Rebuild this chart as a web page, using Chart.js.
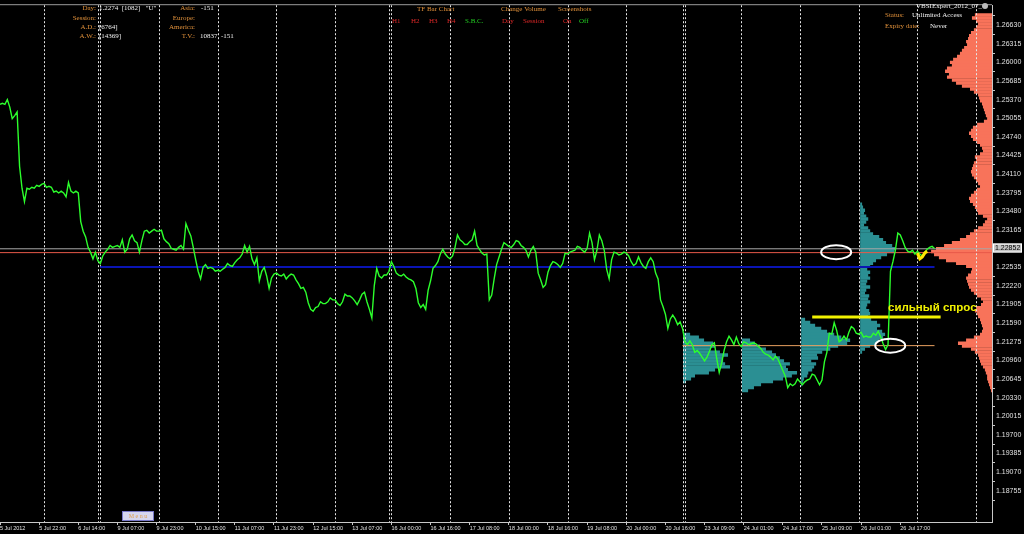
<!DOCTYPE html>
<html><head><meta charset="utf-8">
<script src="https://cdn.jsdelivr.net/npm/chart.js@4.4.1/dist/chart.umd.min.js"></script>
<style>html,body{margin:0;padding:0;background:#000;overflow:hidden}#wrap{width:1024px;height:534px;position:relative}</style>
</head><body><div id="wrap"><canvas id="c" width="1024" height="534"></canvas></div>
<script>
// ---------- DATA ----------
// EURUSD H1 closes, one per bar starting 5 Jul 2012 06:00
const prices = [
1.25291,1.25307,1.25291,1.25372,1.25243,1.25049,1.25098,1.25162,1.24243,1.23871,1.23645,1.23871,1.23855,1.23887,1.23871,1.23920,1.23903,
1.23936,1.23952,1.23887,1.23903,1.23887,1.23807,1.23823,1.23791,1.23823,1.23791,1.23726,1.23968,1.23823,1.23791,1.23823,1.23791,
1.23307,1.23145,1.23048,1.22871,1.22790,1.22677,1.22790,1.22645,1.22597,1.22726,1.22790,1.22839,1.22903,1.22871,1.22887,1.22903,
1.22871,1.23000,1.22790,1.22839,1.23016,1.23081,1.22984,1.22952,1.22790,1.22984,1.23145,1.23161,1.23113,1.23145,1.23177,1.23145,
1.23145,1.23161,1.23016,1.22968,1.22935,1.22855,1.22839,1.22822,1.22871,1.22903,1.22839,1.23274,1.23161,1.23064,1.22871,1.22661,
1.22467,1.22338,1.22532,1.22580,1.22516,1.22532,1.22516,1.22467,1.22484,1.22467,1.22500,1.22532,1.22597,1.22564,1.22548,1.22613,
1.22661,1.22693,1.22758,1.22903,1.22790,1.22887,1.22677,1.22580,1.22693,1.22306,1.22467,1.22532,1.22387,1.22177,1.22354,1.22419,
1.22435,1.22403,1.22387,1.22419,1.22338,1.22387,1.22419,1.22403,1.22322,1.22258,1.22177,1.22193,1.22113,1.21935,1.21822,1.21790,
1.21854,1.21870,1.21951,1.21919,1.21919,1.21951,1.22016,1.21983,1.21983,1.21919,1.21887,1.21951,1.22080,1.22048,1.22048,1.22016,
1.21967,1.21903,1.21983,1.22080,1.22113,1.21951,1.21822,1.21677,1.22225,1.22516,1.22387,1.22354,1.22403,1.22403,1.22467,1.22629,
1.22548,1.22435,1.22403,1.22387,1.22419,1.22371,1.22338,1.22322,1.22290,1.22177,1.21935,1.21854,1.21903,1.21822,1.22145,1.22306,
1.22516,1.22564,1.22629,1.22758,1.22839,1.22758,1.22709,1.22677,1.22726,1.22871,1.23081,1.23000,1.22968,1.22919,1.22919,1.22968,
1.23000,1.23145,1.22903,1.22839,1.22774,1.22742,1.22758,1.21983,1.22064,1.22338,1.22580,1.22709,1.22839,1.22952,1.22919,1.22887,
1.22871,1.22919,1.22984,1.22968,1.22903,1.22871,1.22822,1.22709,1.22822,1.22887,1.22790,1.22435,1.22322,1.22193,1.22241,1.22451,
1.22564,1.22629,1.22613,1.22580,1.22532,1.22597,1.22774,1.22758,1.22790,1.22806,1.22822,1.22887,1.22871,1.22822,1.22790,1.22855,
1.23113,1.22952,1.22661,1.22822,1.23081,1.22984,1.22822,1.22500,1.22338,1.22661,1.22790,1.22774,1.22742,1.22758,1.22790,1.22774,
1.22726,1.22629,1.22564,1.22597,1.22709,1.22613,1.22548,1.22516,1.22629,1.22693,1.22629,1.22435,1.22338,1.21983,1.21870,1.21741,
1.21499,1.21661,1.21725,1.21661,1.21564,1.21612,1.21499,1.21274,1.21225,1.21290,1.21225,1.21096,1.21128,1.21080,1.21015,1.20951,
1.21015,1.21112,1.21225,1.21258,1.20983,1.20757,1.20919,1.21128,1.21274,1.21370,1.21306,1.21225,1.21354,1.21241,1.21193,1.21274,
1.21258,1.21225,1.21241,1.21258,1.21241,1.21193,1.21161,1.21096,1.21064,1.21048,1.21015,1.20967,1.21032,1.20983,1.20886,1.20789,
1.20693,1.20499,1.20564,1.20531,1.20564,1.20644,1.20596,1.20548,1.20596,1.20628,1.20644,1.20725,1.20709,1.20628,1.20548,1.20628,
1.20935,1.21096,1.21419,1.21403,1.21596,1.21467,1.21274,1.21306,1.21370,1.21306,1.21435,1.21532,1.21499,1.21419,1.21403,1.21435,
1.21354,1.21370,1.21354,1.21354,1.21419,1.21386,1.21451,1.21354,1.21241,1.21144,1.21225,1.22467,1.22629,1.22822,1.23113,1.23081,
1.22984,1.22871,1.22806,1.22790,1.22822,1.22758,1.22806,1.22758,1.22726,1.22790,1.22839,1.22871,1.22887,1.22852
];
const lastPrice = 1.22852;
const lastBarsBars   = [375, 376, 377, 378, 379];
const lastBarsPrices = [1.22774, 1.22677, 1.22709, 1.22774, 1.22806];

const xTickBars = [0,16,32,48,64,80,96,112,128,144,160,176,192,208,224,240,256,272,288,304,320,336,352,368];
const xTickLabels = ['5 Jul 2012','5 Jul 22:00','6 Jul 14:00','9 Jul 07:00','9 Jul 23:00','10 Jul 15:00','11 Jul 07:00','11 Jul 23:00',
  '12 Jul 15:00','13 Jul 07:00','16 Jul 00:00','16 Jul 16:00','17 Jul 08:00','18 Jul 00:00','18 Jul 16:00','19 Jul 08:00',
  '20 Jul 00:00','20 Jul 16:00','23 Jul 09:00','24 Jul 01:00','24 Jul 17:00','25 Jul 09:00','26 Jul 01:00','26 Jul 17:00'];
const yTickValues = [1.26630,1.26315,1.26000,1.25685,1.25370,1.25055,1.24740,1.24425,1.24110,1.23795,1.23480,1.23165,
  1.22535,1.22220,1.21905,1.21590,1.21275,1.20960,1.20645,1.20330,1.20015,1.19700,1.19385,1.19070,1.18755];
const daySeparatorBars = [18,40,41,65,89,113,137,159,160,184,208,232,256,279,280,303,327,351,375,399];

// horizontal levels
const levelPrices  = [1.22847, 1.22782, 1.22540, 1.21209, 1.21693];
const levelFromBar = [0, 0, 41, 279, 332];
const levelToBar   = [405.5, 405.5, 382, 382, 384.5];

// session volume profiles (rows every 0.0005, length in bars)
const profileStartBar = [279.2, 303.3, 327.5, 351.6];
const profileTopPrice = [1.2140, 1.2130, 1.2165, 1.2360];
const profile1Vol = [2.9,6.5,8.6,12.3,13.1,11.0,15.1,18.4,16.0,16.4,17.2,19.2,13.1,10.6,4.9,3.3,1.2];
const profile2Vol = [3.3,5.3,7.4,9.8,12.3,13.9,15.5,17.2,19.6,18.0,18.8,22.5,20.4,16.8,12.7,7.8,4.9,2.5];
const profile3Vol = [1.6,3.7,5.7,8.2,10.6,13.5,16.4,20.0,18.8,15.1,11.9,8.6,6.5,6.9,4.1,6.1,5.3,4.5,2.9,2.5,1.2,0.8,0.4];
const profile4Vol = [0.8,1.2,2.0,1.6,2.5,3.3,2.5,1.6,3.3,4.1,5.3,7.8,9.4,10.6,13.1,14.3,13.9,11.0,8.6,6.5,5.3,4.1,2.9,4.1,3.3,4.1,
  2.9,2.5,4.1,2.5,2.0,3.7,3.3,4.1,2.9,2.5,3.7,4.1,3.3,4.5,6.9,8.2,6.9,9.0,10.2,9.4,7.8,6.5,4.1,2.0,0.8];
// whole-period profile on the right edge
const fullProfileTop = 1.2680;
const fullProfileEndBar = 405.5;
const fullProfileVol = [7.0,8.2,6.5,5.7,6.5,7.4,8.6,9.4,9.8,10.6,10.2,11.4,12.3,13.1,14.3,15.9,17.2,16.4,18.4,19.2,17.6,18.4,16.4,14.7,12.3,
  9.0,7.4,5.7,5.3,4.9,4.1,3.7,3.3,2.9,2.5,2.0,3.3,6.1,7.8,8.6,9.4,8.6,7.8,6.1,4.9,4.1,3.7,4.9,7.0,6.5,7.4,7.8,8.2,8.6,8.2,7.4,6.5,5.7,
  4.9,6.1,7.4,8.6,9.4,9.0,7.8,7.0,6.1,5.7,3.7,2.0,2.9,3.7,5.7,7.4,9.0,10.6,13.1,16.4,19.6,22.9,24.9,23.7,21.7,18.8,14.7,10.6,8.2,8.6,
  9.8,10.6,10.2,9.8,9.4,8.6,7.4,6.1,4.5,3.7,4.5,6.5,7.0,6.1,5.7,4.9,4.5,4.1,3.7,4.1,4.9,7.4,10.6,13.9,12.3,8.6,7.0,5.7,5.3,4.9,4.5,3.7,
  2.9,2.5,2.0,2.0,1.6,1.2,0.8,0.4];

// annotations
const ellipseBars   = [341.8, 363.9];
const ellipsePrices = [1.22790, 1.21209];
const noteBar = 363, notePrice = 1.21850, noteText = 'сильный спрос';

// ---------- STYLE ----------
const ROW_STEP = 0.0005;
const ORANGE = '#e0903a', WHITE = '#f0f0f0', RED = '#e02828', GREEN = '#22cc22';
const TEAL = '#2b8f93', SALMON = '#f8735a';
const levelColors = ['#a8a8a8', '#e85a4a', '#0a14b4', '#e8a060', '#f2f200'];
const levelWidths = [1, 1, 2, 1, 3];

function rows(top, vols, startBar, dir) {
  return vols.map((v, k) => ({
    y: +(top - k * ROW_STEP).toFixed(4),
    x: dir > 0 ? [startBar, startBar + v] : [startBar - v, startBar]
  }));
}

const datasets = [];
datasets.push({ type:'line', label:'last', data: lastBarsBars.map((b,i)=>({x:b, y:lastBarsPrices[i]})),
  borderColor:'#ffe600', backgroundColor:'#ffe600', borderWidth:3, pointRadius:0, order:0 });
datasets.push({ type:'line', label:'price', data: prices.map((p,i)=>({x:i, y:p})),
  borderColor:'#2cff2c', borderWidth:1.4, pointRadius:0, tension:0, order:1 });
levelPrices.forEach((p,i)=>{
  datasets.push({ type:'line', label:'level'+i, data:[{x:levelFromBar[i], y:p},{x:levelToBar[i], y:p}],
    borderColor:levelColors[i], borderWidth:levelWidths[i], pointRadius:0, order:2 });
});
[profile1Vol, profile2Vol, profile3Vol, profile4Vol].forEach((vols,i)=>{
  datasets.push({ type:'bar', label:'profile'+(i+1), indexAxis:'y', grouped:false,
    data: rows(profileTopPrice[i], vols, profileStartBar[i], 1),
    backgroundColor:TEAL, borderWidth:0, categoryPercentage:1, barPercentage:1.15, order:3 });
});
datasets.push({ type:'bar', label:'full', indexAxis:'y', grouped:false,
  data: rows(fullProfileTop, fullProfileVol, fullProfileEndBar, -1),
  backgroundColor:SALMON, borderWidth:0, categoryPercentage:1, barPercentage:1.15, order:4 });

const infoTexts = [
  ['Day:', 96, 8, ORANGE, 'right'], ['1.2274  [1082]   "U"', 99, 8, WHITE, 'left'],
  ['Session:', 96, 18, ORANGE, 'right'],
  ['A.D.:', 96, 27, ORANGE, 'right'], ['[6764]', 99, 27, WHITE, 'left'],
  ['A.W.:', 96, 36, ORANGE, 'right'], ['[14369]', 99, 36, WHITE, 'left'],
  ['Asia:', 195, 8, ORANGE, 'right'], ['-151', 201, 8, WHITE, 'left'],
  ['Europe:', 195, 18, ORANGE, 'right'], ['America:', 195, 27, ORANGE, 'right'],
  ['T.V.:', 195, 36, ORANGE, 'right'], ['10837  -151', 200, 36, WHITE, 'left'],
  ['TF Bar Chart', 417, 9, ORANGE, 'left'],
  ['H1', 392, 21, RED, 'left'], ['H2', 411, 21, RED, 'left'], ['H3', 429, 21, RED, 'left'], ['H4', 447, 21, RED, 'left'],
  ['S.B.C.', 465, 21, GREEN, 'left'],
  ['Change Volume', 501, 9, ORANGE, 'left'], ['Day', 502, 21, RED, 'left'], ['Session', 523, 21, RED, 'left'],
  ['Screenshots', 558, 9, ORANGE, 'left'], ['On', 563, 21, RED, 'left'], ['Off', 579, 21, GREEN, 'left'],
  ['Status:', 885, 15, ORANGE, 'left'], ['Unlimited Access', 912, 15, WHITE, 'left'],
  ['Expiry date:', 885, 26, ORANGE, 'left'], ['Never', 930, 26, WHITE, 'left'],
  ['VBSIExpert_2012_07_', 916, 6, WHITE, 'left']
];

const overlay = {
  id: 'overlay',
  beforeDraw(chart) {
    const { ctx, width, height } = chart;
    ctx.save();
    ctx.fillStyle = '#000'; ctx.fillRect(0, 0, width, height);
    ctx.restore();
  },
  afterDatasetDraw(chart, args) {
    if (chart.data.datasets[args.index].label !== 'profile1') return;
    const { ctx, chartArea, scales } = chart;
    ctx.save();
    ctx.strokeStyle = '#e6e6e6'; ctx.lineWidth = 1; ctx.setLineDash([2, 2]);
    daySeparatorBars.forEach(b => {
      const x = Math.round(scales.x.getPixelForValue(b)) + 0.5;
      ctx.beginPath(); ctx.moveTo(x, chartArea.top); ctx.lineTo(x, chartArea.bottom); ctx.stroke();
    });
    ctx.restore();
  },
  afterDraw(chart) {
    const { ctx, chartArea, scales } = chart;
    const sx = scales.x, sy = scales.y;
    ctx.save();
    ctx.strokeStyle = '#9a9a9a'; ctx.lineWidth = 1;
    ctx.beginPath(); ctx.moveTo(0, chartArea.top - 0.5); ctx.lineTo(chartArea.right, chartArea.top - 0.5); ctx.stroke();
    ctx.strokeStyle = '#ffffff'; ctx.lineWidth = 2;
    ellipseBars.forEach((b, i) => {
      ctx.beginPath();
      ctx.ellipse(sx.getPixelForValue(b), sy.getPixelForValue(ellipsePrices[i]), 15, 7, 0, 0, Math.PI * 2);
      ctx.stroke();
    });
    ctx.fillStyle = '#f2f200'; ctx.font = 'bold 11.5px "Liberation Sans", Arial, sans-serif';
    ctx.textAlign = 'left'; ctx.textBaseline = 'middle';
    ctx.fillText(noteText, sx.getPixelForValue(noteBar), sy.getPixelForValue(notePrice));
    ctx.font = '7px "Liberation Serif", "Times New Roman", serif';
    infoTexts.forEach(t => {
      ctx.fillStyle = t[3]; ctx.textAlign = t[4]; ctx.textBaseline = 'middle';
      ctx.fillText(t[0], t[1], t[2]);
    });
    ctx.fillStyle = '#bbbbbb'; ctx.beginPath(); ctx.arc(985, 6, 3, 0, Math.PI * 2); ctx.fill();
    const py = Math.round(sy.getPixelForValue(lastPrice));
    ctx.fillStyle = '#c4c4c4'; ctx.fillRect(chartArea.right + 1, py - 4.5, 29, 9);
    ctx.strokeStyle = '#ffffff'; ctx.lineWidth = 1; ctx.strokeRect(chartArea.right + 1.5, py - 4, 28, 8);
    ctx.fillStyle = '#000'; ctx.font = '7px "Liberation Sans", Arial, sans-serif';
    ctx.textAlign = 'left'; ctx.fillText(lastPrice.toFixed(5), chartArea.right + 3, py + 0.5);
    ctx.fillStyle = '#d6d6ee'; ctx.fillRect(122, 511, 32, 10);
    ctx.strokeStyle = '#7878c8'; ctx.strokeRect(122.5, 511.5, 31, 9);
    ctx.fillStyle = '#e0a050'; ctx.font = '6px "Liberation Serif", serif'; ctx.textAlign = 'center';
    ctx.fillText('M e n u', 138, 516.5);
    ctx.restore();
  }
};

const Y_MIN = 1.18401, Y_MAX = 1.26792;

new Chart(document.getElementById('c'), {
  type: 'line',
  data: { datasets },
  options: {
    responsive: false, devicePixelRatio: 1, animation: false, events: [],
    layout: { padding: { top: 2, left: 0, right: 0, bottom: 0 } },
    plugins: { legend: { display: false }, tooltip: { enabled: false } },
    scales: {
      x: {
        type: 'linear', position: 'bottom', min: 0, max: 405.5,
        afterBuildTicks: s => { s.ticks = xTickBars.map(v => ({ value: v })); },
        afterFit: s => { s.height = 12; },
        ticks: { autoSkip: false, maxRotation: 0, align: 'start', padding: 0, color: '#e0e0e0',
          font: { family: '"Liberation Sans", Arial, sans-serif', size: 5.5 },
          callback: (v, i) => xTickLabels[i] },
        grid: { display: true, drawOnChartArea: false, drawTicks: true, tickLength: 3, color: '#c8c8c8' },
        border: { display: true, color: '#c8c8c8' }
      },
      y: {
        type: 'linear', position: 'right', min: Y_MIN, max: Y_MAX,
        afterBuildTicks: s => { s.ticks = yTickValues.map(v => ({ value: v })); },
        afterFit: s => { s.width = 32; },
        ticks: { autoSkip: false, padding: 1, color: '#e0e0e0',
          font: { family: '"Liberation Sans", Arial, sans-serif', size: 7 },
          callback: v => Number(v).toFixed(5) },
        grid: { display: true, drawOnChartArea: false, drawTicks: true, tickLength: 3, color: '#c8c8c8' },
        border: { display: true, color: '#c8c8c8' }
      }
    }
  },
  plugins: [overlay]
});
</script>
</body></html>
